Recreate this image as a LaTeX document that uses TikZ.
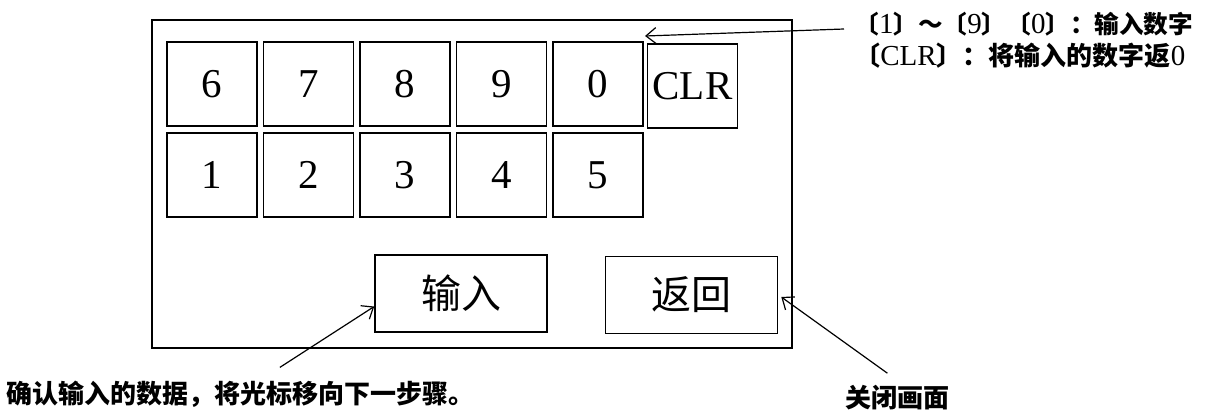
\documentclass[tikz,border=0pt]{standalone}
\usepackage{fontspec}
\setmainfont{Liberation Serif}
\newfontfamily\cjk{Noto Sans CJK SC}
\usetikzlibrary{arrows.meta}
\newcommand{\latn}[1]{{\rmfamily\mdseries\fontsize{14.5}{15}\selectfont #1}}
\tikzstyle{numkey} = [rectangle, draw=black, line width=0.8pt, minimum width=45pt, minimum height=42pt, inner sep=0pt, font=\fontsize{20.5}{24}\selectfont]
\tikzstyle{btn} = [rectangle, draw=black, line width=0.8pt, minimum width=86pt, minimum height=38.5pt, inner sep=0pt, font=\cjk\fontsize{20}{24}\selectfont]
\tikzstyle{note} = [inner sep=0pt, anchor=west, font=\cjk\bfseries\fontsize{13}{15}\selectfont]
\tikzstyle{arrow} = [line width=0.6pt, -{Straight Barb[length=5pt,width=8pt]}]

\begin{document}
\begin{tikzpicture}[x=0.5pt, y=-0.5pt]
  \useasboundingbox (0,0) rectangle (1212,414);
  %画面外框
  \draw [line width=0.8pt] (152,20) rectangle (792,348);

  %数字键
  \foreach \d [count=\i from 0] in {6,7,8,9,0}
    \node (k\d) [numkey] at (212+96.5*\i, 84) {\d};
  \foreach \d [count=\i from 0] in {1,2,3,4,5}
    \node (k\d) [numkey] at (212+96.5*\i, 175) {\d};
  \node (clr) [numkey] at (692.5, 86) {CLR};

  %输入、返回按钮
  \node (btnIn) [btn] at (461, 293.5) {输入};
  \node (btnBack) [btn] at (691.5, 295) {返回};

  %说明文字
  \node (note1) [note, font=\cjk\bfseries\fontsize{12.3}{15}\selectfont] at (854, 24) {〔\latn{1}〕～〔\latn{9}〕〔\latn{0}〕：输入数字};
  \node (note2) [note] at (854, 56) {〔\latn{CLR}〕：将输入的数字返\latn{0}};
  \node (note3) [note] at (6, 394) {确认输入的数据，将光标移向下一步骤。};
  \node (note4) [note] at (845, 398) {关闭画面};
  \coordinate (tip1) at (645, 36);

  %箭头
  \draw [arrow] ([xshift=-5pt,yshift=-2.5pt]note1.west) -- (tip1);
  \draw [arrow] ([xshift=19.75pt,yshift=6.5pt]note3.north) -- ([yshift=-6.5pt]btnIn.west);
  \draw [arrow] ([xshift=-5pt,yshift=6pt]note4.north) -- ([xshift=1.5pt,yshift=-1pt]btnBack.east);
\end{tikzpicture}
\end{document}
